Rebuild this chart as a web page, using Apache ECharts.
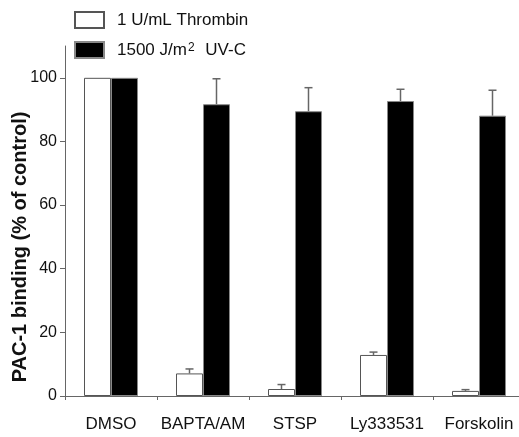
<!DOCTYPE html>
<html>
<head>
<meta charset="utf-8">
<script src="https://cdn.jsdelivr.net/npm/echarts@6/dist/echarts.min.js"></script>
<style>
  html, body { margin: 0; padding: 0; background: #fff; }
  #chart { width: 519px; height: 437px; }
</style>
</head>
<body>
<div id="chart"></div>
<script>
  // data
  var categories = ['DMSO', 'BAPTA/AM', 'STSP', 'Ly333531', 'Forskolin'];
  var thrombin = [100, 7.1, 2.2, 12.9, 1.6];
  var thrombinErr = [0, 1.4, 1.4, 0.9, 0.4];
  var uvc = [100, 91.7, 89.5, 92.7, 88.1];
  var uvcErr = [0, 8.0, 7.4, 3.7, 8.0];
  var yTicks = [0, 20, 40, 60, 80, 100];

  var barW = 27;
  var capW = 8;
  var font = '"Liberation Sans", Arial, sans-serif';

  function errData(vals, errs) {
    return vals.map(function (v, i) { return [i, v, errs[i]]; });
  }

  function errRender(side) {
    return function (params, api) {
      var err = api.value(2);
      if (!err) return null;
      var base = api.coord([api.value(0), api.value(1)]);
      var top = api.coord([api.value(0), api.value(1) + err]);
      var cx = base[0] + side * barW / 2;
      var st = { stroke: '#666', lineWidth: 1.5 };
      return {
        type: 'group',
        children: [
          { type: 'line', shape: { x1: cx, y1: base[1], x2: cx, y2: top[1] }, style: st },
          { type: 'line', shape: { x1: cx - capW / 2, y1: top[1], x2: cx + capW / 2, y2: top[1] }, style: st }
        ]
      };
    };
  }

  var chart = echarts.init(document.getElementById('chart'));
  chart.setOption({
    animation: false,
    textStyle: { fontFamily: font },
    legend: {
      orient: 'vertical',
      left: 74,
      top: 11,
      padding: 0,
      icon: 'rect',
      itemWidth: 29,
      itemHeight: 16,
      itemGap: 12,
      data: ['1 U/mL Thrombin', '1500 J/m² UV-C'],
      formatter: function (name) {
        return name.replace('²', '{sup|2}');
      },
      textStyle: {
        fontFamily: font,
        fontSize: 17,
        lineHeight: 16,
        color: '#111',
        padding: [0, 0, 0, 8],
        rich: {
          sup: { fontFamily: font, fontSize: 12, lineHeight: 16, color: '#111', verticalAlign: 'top', padding: [0, 6, 4, 1] }
        }
      }
    },
    grid: { left: 65, top: 46, width: 460, height: 350, outerBoundsMode: 'none', containLabel: false },
    xAxis: {
      type: 'category',
      data: categories,
      axisLine: { lineStyle: { color: '#666', width: 1 } },
      axisTick: { show: true, length: 4, lineStyle: { color: '#666' } },
      axisLabel: { color: '#111', fontSize: 17, fontFamily: font, margin: 20, interval: 0 }
    },
    yAxis: {
      type: 'value',
      min: 0,
      max: 110,
      interval: 20,
      name: 'PAC-1 binding (% of control)',
      nameLocation: 'middle',
      nameGap: 35,
      nameMoveOverlap: false,
      nameTextStyle: { fontFamily: font, fontSize: 20, fontWeight: 'bold', color: '#111', padding: [0, 52, 0, 0] },
      splitLine: { show: false },
      axisLine: { show: true, lineStyle: { color: '#666', width: 1 } },
      axisTick: { show: true, length: 5, customValues: yTicks, lineStyle: { color: '#666' } },
      axisLabel: { color: '#111', fontSize: 16, fontFamily: font, margin: 8, customValues: yTicks }
    },
    series: [
      {
        name: '1 U/mL Thrombin',
        type: 'bar',
        data: thrombin,
        barWidth: barW,
        barGap: '0%',
        itemStyle: { color: '#fff', borderColor: '#555', borderWidth: 1 }
      },
      {
        name: '1500 J/m² UV-C',
        type: 'bar',
        data: uvc,
        barWidth: barW,
        barGap: '0%',
        itemStyle: { color: '#000', borderColor: '#888', borderWidth: 1 }
      },
      {
        type: 'custom',
        renderItem: errRender(-1),
        data: errData(thrombin, thrombinErr),
        z: 5
      },
      {
        type: 'custom',
        renderItem: errRender(1),
        data: errData(uvc, uvcErr),
        z: 5
      }
    ]
  });
</script>
</body>
</html>
